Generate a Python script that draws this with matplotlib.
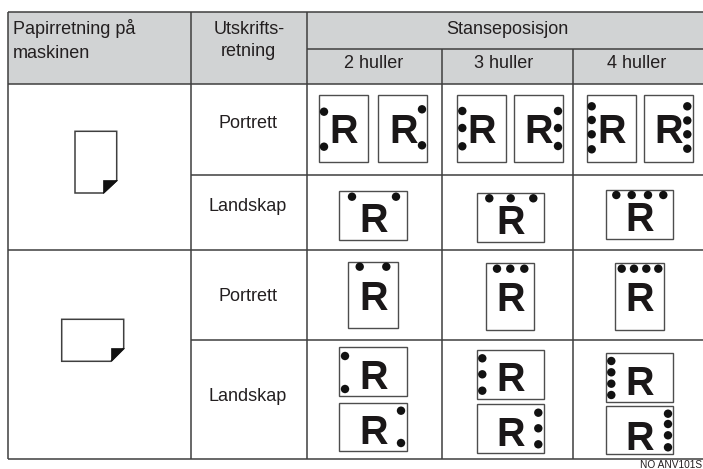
import matplotlib
matplotlib.use("Agg")
import matplotlib.pyplot as plt
from matplotlib.patches import Rectangle, Circle, Polygon

plt.rcParams['font.family'] = ['Liberation Sans', 'DejaVu Sans']

W, H = 703, 469
HEADER_FILL = '#d1d3d4'
LINE = '#3f3f3f'

paper_header = ['Papirretning på', 'maskinen']
print_header = ['Utskrifts-', 'retning']
punch_header = 'Stanseposisjon'
hole_labels = ['2 huller', '3 huller', '4 huller']
row_labels = ['Portrett', 'Landskap', 'Portrett', 'Landskap']
footer = 'NO ANV101S'

col_x = [7.5, 191, 306.5, 442, 573, 703]
full_y = [12, 84, 250, 459.5]
part_y = [175, 340]
sub_y = 49

# sheet: left, top, width, height, R centre x, R centre y, hole x list, hole y list
sheets = [
    (318.7, 95, 49, 67, 343.3, 129, [324, 324], [111.7, 146.7]),
    (378.3, 95, 49, 67, 403.3, 129, [422, 422], [109.3, 145.3]),
    (457.3, 95, 49, 67, 482, 129, [462.3] * 3, [111, 128, 146.3]),
    (514.3, 95, 49, 67, 538.7, 129, [558] * 3, [111, 128, 146]),
    (586.7, 95, 49, 67, 611.7, 129, [591.7] * 4, [106.3, 120, 134.3, 149.3]),
    (643.7, 95, 49, 67, 668.3, 129, [687.3] * 4, [106.3, 120.5, 134.3, 148.7]),
    (339.3, 191, 67.4, 49, 373.3, 218, [352, 396], [196.7, 196.7]),
    (476.7, 192.7, 67, 49, 510.7, 220, [489.3, 510.7, 533.3], [198.3] * 3),
    (606.3, 190, 67, 49, 640, 217, [616.3, 631.7, 648, 663.3], [195] * 4),
    (348.3, 261.7, 49.4, 66.6, 373.3, 296, [359.7, 386.3], [266.7, 266.7]),
    (485.7, 263.3, 48.6, 66.7, 510.7, 297.3, [497, 510.3, 524.3], [268.7] * 3),
    (615.3, 263.3, 48.7, 66.7, 640, 297.3, [621.7, 634, 646.3, 658.3], [268.7] * 4),
    (339.3, 347.3, 67.4, 49, 373.3, 375, [345, 345], [356, 389]),
    (339.3, 402.7, 67.4, 48.6, 373.3, 430, [401, 401], [410.7, 443]),
    (476.7, 349.7, 67, 49, 510.7, 376.7, [482.3] * 3, [358.3, 374.3, 390.7]),
    (476.7, 404.3, 67, 49, 510.7, 431.7, [538.3] * 3, [412.7, 428.3, 444.3]),
    (606.3, 352.7, 67, 49, 640, 381, [611.3] * 4, [361, 372.3, 383.7, 395]),
    (606.3, 405.7, 67, 48.6, 640, 436, [668] * 4, [413.7, 424, 435.3, 447.3]),
]

fig = plt.figure(figsize=(W / 100, H / 100), dpi=100, facecolor='white')
ax = fig.add_axes([0, 0, 1, 1])
ax.set_xlim(0, W)
ax.set_ylim(H, 0)
ax.axis('off')

# header fills
ax.add_patch(Rectangle((col_x[0], full_y[0]), W - col_x[0], full_y[1] - full_y[0],
                       fc=HEADER_FILL, ec='none', zorder=1))

# grid
def hl(y, x0, x1):
    ax.plot([x0, x1], [y, y], color=LINE, lw=1.1, zorder=3, solid_capstyle='butt')

def vl(x, y0, y1):
    ax.plot([x, x], [y0, y1], color=LINE, lw=1.1, zorder=3, solid_capstyle='butt')

for y in full_y:
    hl(y, col_x[0], W)
for y in part_y:
    hl(y, col_x[1], W)
hl(sub_y, col_x[2], W)
for x in col_x[:3]:
    vl(x, full_y[0], full_y[-1])
for x in col_x[3:5]:
    vl(x, sub_y, full_y[-1])

# header text
FS = 13
TC = '#231f20'
ax.text(13, 28, paper_header[0], fontsize=FS, ha='left', va='center', color=TC)
ax.text(13, 53, paper_header[1], fontsize=FS, ha='left', va='center', color=TC)
ax.text(248.7, 30, print_header[0], fontsize=FS, ha='center', va='center', color=TC)
ax.text(248.7, 51, print_header[1], fontsize=FS, ha='center', va='center', color=TC)
ax.text(507.7, 29.5, punch_header, fontsize=FS, ha='center', va='center', color=TC)
for cx, lab in zip([374, 504, 637], hole_labels):
    ax.text(cx, 64, lab, fontsize=FS, ha='center', va='center', color=TC)
for cy, lab in zip([123.5, 206.5, 296.5, 396.5], row_labels):
    ax.text(248, cy, lab, fontsize=FS, ha='center', va='center', color=TC)

# paper icons
ax.add_patch(Polygon([(75, 131.3), (116.7, 131.3), (116.7, 180.3), (103.3, 193), (75, 193)],
                     closed=True, fc='white', ec=LINE, lw=1.1, zorder=4))
ax.add_patch(Polygon([(103.3, 193), (103.3, 180.3), (116.7, 180.3)],
                     closed=True, fc='#111111', ec='#111111', lw=0.5, zorder=5))
ax.add_patch(Polygon([(61.7, 319.3), (123.7, 319.3), (123.7, 348), (110.7, 361.3), (61.7, 361.3)],
                     closed=True, fc='white', ec=LINE, lw=1.1, zorder=4))
ax.add_patch(Polygon([(110.7, 361.3), (110.7, 348), (123.7, 348)],
                     closed=True, fc='#111111', ec='#111111', lw=0.5, zorder=5))

# punched sheets
for x, y, w, h, rx, ry, hx, hy in sheets:
    ax.add_patch(Rectangle((x, y), w, h, fc='white', ec='#4d4d4d', lw=1.0, zorder=4))
    ax.text(rx, ry + 14, 'R', fontsize=28.5, fontweight='bold', ha='center', va='baseline',
            color='#1a1718', zorder=5)
    for cx, cy in zip(hx, hy):
        ax.add_patch(Circle((cx, cy), 4.2, fc='#111111', ec='none', zorder=6))

ax.text(702, 464.5, footer, fontsize=7.3, ha='right', va='center', color=TC)

fig.savefig('out.png', dpi=100)
